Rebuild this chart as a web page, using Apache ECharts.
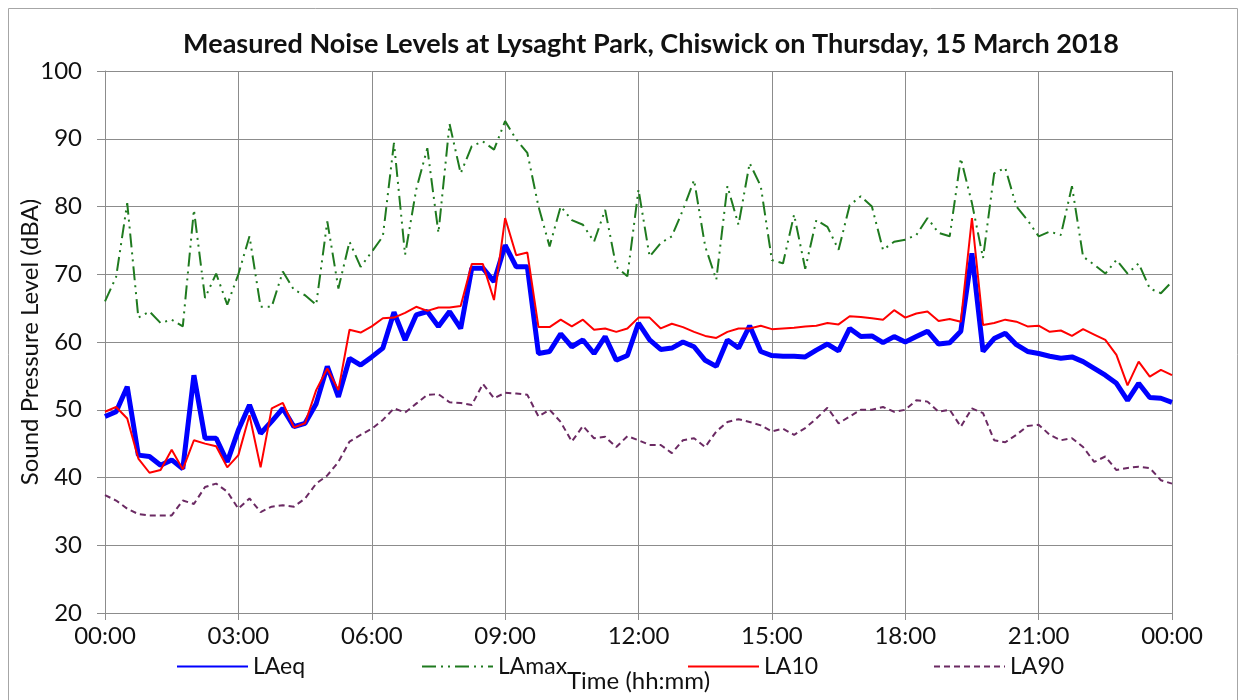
<!DOCTYPE html>
<html>
<head>
<meta charset="utf-8">
<script src="https://cdn.jsdelivr.net/npm/echarts@6/dist/echarts.min.js"></script>
<style>
html,body{margin:0;padding:0;background:#fff;}
#chart{width:1245px;height:700px;}
</style>
</head>
<body>
<div id="chart"></div>
<script>
// 15-minute intervals from 00:00 to 24:00 (shown as 00:00)
const times = [];
for (let h = 0; h <= 24; h++) {
  for (let m = 0; m < 60; m += 15) {
    if (h === 24 && m > 0) break;
    times.push(String(h % 24).padStart(2, '0') + ':' + String(m).padStart(2, '0'));
  }
}

const seriesNames = ['LAeq', 'LAmax', 'LA10', 'LA90'];

const LAeq = [
  49.0, 49.7, 53.4, 43.3, 43.1, 41.8, 42.6, 41.3, 55.1, 45.8, 45.8, 42.3,
  47.0, 50.7, 46.5, 48.3, 50.2, 47.5, 48.0, 50.9, 56.4, 51.9, 57.6, 56.6,
  57.8, 59.1, 64.4, 60.3, 64.0, 64.5, 62.3, 64.5, 62.0, 70.9, 70.9, 68.9,
  74.3, 71.1, 71.1, 58.3, 58.6, 61.2, 59.3, 60.3, 58.3, 60.8, 57.3, 58.0,
  62.8, 60.3, 58.9, 59.1, 60.0, 59.3, 57.3, 56.4, 60.3, 59.1, 62.4, 58.6,
  58.0, 57.9, 57.9, 57.8, 58.8, 59.7, 58.7, 62.0, 60.8, 60.9, 59.9, 60.8,
  60.0, 60.8, 61.6, 59.7, 59.9, 61.6, 73.1, 58.6, 60.5, 61.3, 59.6, 58.6,
  58.3, 57.9, 57.6, 57.8, 57.1, 56.1, 55.1, 53.9, 51.4, 53.9, 51.8, 51.7,
  51.1
];

const LAmax = [
  66.0, 69.6, 80.5, 63.6, 64.5, 62.8, 63.3, 62.3, 79.5, 66.5, 70.1, 65.5,
  70.0, 75.6, 65.2, 65.2, 70.4, 67.7, 66.9, 65.5, 77.8, 67.9, 74.8, 71.1,
  73.3, 75.6, 89.4, 72.9, 82.5, 88.6, 76.1, 92.2, 84.9, 88.9, 89.6, 88.4,
  92.6, 89.9, 87.9, 80.0, 74.1, 80.0, 78.0, 77.3, 74.8, 79.5, 71.1, 69.7,
  82.5, 72.6, 74.6, 75.6, 79.5, 83.9, 74.1, 69.2, 83.0, 77.3, 86.4, 83.0,
  72.1, 71.6, 78.8, 70.8, 78.0, 77.0, 73.6, 80.2, 81.5, 80.0, 73.6, 74.8,
  75.1, 75.8, 78.3, 76.1, 75.6, 87.1, 80.5, 72.4, 84.9, 85.7, 80.0, 78.0,
  75.6, 76.3, 75.8, 83.0, 72.6, 71.4, 70.1, 72.1, 70.1, 71.6, 67.9, 67.2,
  68.9
];

const LA10 = [
  49.7, 50.4, 48.7, 42.8, 40.7, 41.1, 44.1, 41.2, 45.5, 45.0, 44.6, 41.5,
  43.3, 49.2, 41.5, 50.2, 51.0, 47.4, 48.0, 52.9, 56.1, 52.9, 61.8, 61.4,
  62.3, 63.5, 63.6, 64.3, 65.2, 64.6, 65.1, 65.1, 65.3, 71.5, 71.5, 66.2,
  78.3, 72.8, 73.2, 62.2, 62.2, 63.3, 62.3, 63.3, 61.8, 62.0, 61.5, 62.0,
  63.6, 63.6, 62.0, 62.7, 62.2, 61.5, 60.9, 60.6, 61.5, 62.0, 62.0, 62.4,
  61.9, 62.0, 62.1, 62.3, 62.4, 62.8, 62.6, 63.8, 63.7, 63.5, 63.3, 64.7,
  63.6, 64.2, 64.5, 63.1, 63.4, 63.0, 78.3, 62.5, 62.8, 63.3, 63.0, 62.3,
  62.4, 61.5, 61.7, 60.9, 61.9, 61.1, 60.3, 58.1, 53.6, 57.1, 54.9, 55.9,
  55.1
];

const LA90 = [
  37.4, 36.6, 35.4, 34.6, 34.4, 34.4, 34.4, 36.6, 36.1, 38.6, 39.1, 37.9,
  35.4, 36.9, 34.9, 35.7, 35.9, 35.7, 36.9, 39.1, 40.3, 42.3, 45.3, 46.3,
  47.2, 48.5, 50.2, 49.6, 50.9, 52.2, 52.3, 51.1, 51.0, 50.7, 53.8, 51.7,
  52.5, 52.4, 52.2, 49.0, 50.0, 48.2, 45.3, 47.6, 45.8, 46.0, 44.5, 46.1,
  45.5, 44.8, 44.8, 43.6, 45.5, 45.8, 44.5, 46.8, 48.2, 48.6, 48.2, 47.7,
  46.8, 47.2, 46.3, 47.3, 48.7, 50.3, 48.0, 49.0, 50.0, 50.0, 50.4, 49.7,
  50.0, 51.4, 51.2, 49.7, 50.0, 47.5, 50.2, 49.5, 45.5, 45.2, 46.3, 47.6,
  47.8, 46.3, 45.5, 45.8, 44.5, 42.3, 43.1, 41.1, 41.4, 41.6, 41.4, 39.6,
  39.1
];

const yTicks = { min: 20, max: 100, interval: 10 };

const FONT = 'Lato';
const chart = echarts.init(document.getElementById('chart'), null, { renderer: 'canvas' });

function legendAt(name, left) {
  return {
    data: [name], left: left, top: 655, padding: 0,
    itemWidth: 71, itemHeight: 14, itemGap: 0,
    itemStyle: { color: 'rgba(0,0,0,0)', borderColor: 'rgba(0,0,0,0)', borderWidth: 0, opacity: 0 },
    textStyle: { fontFamily: FONT, fontSize: 23, color: '#111' }
  };
}

const option = {
  animation: false,
  backgroundColor: '#fff',
  graphic: [{
    type: 'rect', shape: { x: 8.5, y: 8.5, width: 1229, height: 720 },
    style: { fill: 'none', stroke: '#a6a6a6', lineWidth: 1 }, silent: true
  }],
  title: {
    text: 'Measured Noise Levels at Lysaght Park, Chiswick on Thursday, 15 March 2018',
    left: 651, top: 31, textAlign: 'center', padding: 0,
    textStyle: { fontFamily: FONT, fontSize: 27, fontWeight: 'bold', color: '#111' }
  },
  legend: [
    legendAt('LAeq', 176),
    legendAt('LAmax', 421),
    legendAt('LA10', 687),
    legendAt('LA90', 933)
  ],
  grid: { left: 105, right: 73, top: 71, bottom: 87, containLabel: false },
  xAxis: {
    type: 'category', data: times, boundaryGap: false,
    name: 'Time (hh:mm)', nameLocation: 'middle', nameGap: 56, nameMoveOverlap: false,
    nameTextStyle: { fontFamily: FONT, fontSize: 24, color: '#111' },
    axisLine: { lineStyle: { color: '#8c8c8c', width: 1 } },
    axisTick: { show: true, interval: 11, length: 7, lineStyle: { color: '#8c8c8c' } },
    axisLabel: { interval: 11, margin: 11, fontFamily: FONT, fontSize: 24, color: '#111' },
    splitLine: { show: true, interval: 11, lineStyle: { color: '#8c8c8c', width: 1 } }
  },
  yAxis: {
    type: 'value', min: yTicks.min, max: yTicks.max, interval: yTicks.interval,
    name: 'Sound Pressure Level (dBA)', nameLocation: 'middle', nameGap: 63, nameRotate: 90,
    nameMoveOverlap: false,
    nameTextStyle: { fontFamily: FONT, fontSize: 24, color: '#111' },
    axisLine: { show: true, lineStyle: { color: '#8c8c8c', width: 1 } },
    axisTick: { show: true, length: 8, lineStyle: { color: '#8c8c8c' } },
    axisLabel: { margin: 23, fontFamily: FONT, fontSize: 24, color: '#111' },
    splitLine: { show: true, lineStyle: { color: '#8c8c8c', width: 1 } }
  },
  series: [
    {
      name: 'LAeq', type: 'line', data: LAeq, symbol: 'none', z: 2,
      lineStyle: { color: '#0000ff', width: 5 }, itemStyle: { color: '#0000ff' }
    },
    {
      name: 'LAmax', type: 'line', data: LAmax, symbol: 'none', z: 3,
      lineStyle: { color: '#1f7a1f', width: 2, type: [14, 5, 2, 5, 2, 5] },
      itemStyle: { color: '#1f7a1f' }
    },
    {
      name: 'LA10', type: 'line', data: LA10, symbol: 'none', z: 4,
      lineStyle: { color: '#ff0000', width: 2 }, itemStyle: { color: '#ff0000' }
    },
    {
      name: 'LA90', type: 'line', data: LA90, symbol: 'none', z: 5,
      lineStyle: { color: '#6b2a63', width: 2, type: [6, 4] }, itemStyle: { color: '#6b2a63' }
    }
  ]
};
chart.setOption(option);
</script>
</body>
</html>
